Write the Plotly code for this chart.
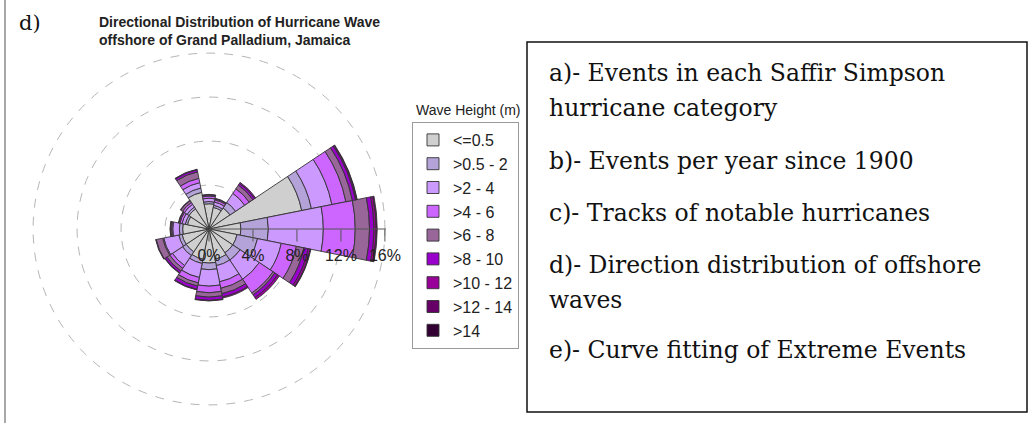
import plotly.graph_objects as go

# 16 compass sectors, N at the top, clockwise
directions = ["N", "NNE", "NE", "ENE", "E", "ESE", "SE", "SSE",
              "S", "SSW", "SW", "WSW", "W", "WNW", "NW", "NNW"]

height_classes = ["<=0.5", ">0.5 - 2", ">2 - 4", ">4 - 6", ">6 - 8",
                  ">8 - 10", ">10 - 12", ">12 - 14", ">14"]
class_colors = ["#CFCFCF", "#B3A3D9", "#CC99FF", "#CC66FF", "#996699",
                "#9900CC", "#990099", "#660066", "#330033"]

# frequency of occurrence (%) per direction, one list per wave height class
h_0_05 = [2.3, 2.0, 2.3, 8.6, 2.9, 2.6, 2.6, 2.8, 3.1, 2.8, 2.5, 2.5, 2.4, 2.0, 2.2, 3.4]
h_05_2 = [0.2, 0.2, 0.6, 0.9, 2.5, 1.9, 0.8, 0.6, 0.6, 0.4, 0.4, 0.3, 0.3, 0.2, 0.2, 0.4]
h_2_4 = [0.3, 0.3, 1.0, 1.9, 5.0, 2.2, 2.1, 1.5, 1.5, 1.3, 1.1, 1.4, 0.6, 0.3, 0.3, 0.5]
h_4_6 = [0.2, 0.2, 0.5, 1.3, 2.9, 1.4, 1.5, 0.6, 0.6, 0.5, 0.3, 0.1, 0.1, 0.2, 0.2, 0.4]
h_6_8 = [0.1, 0.1, 0.4, 0.6, 1.3, 0.7, 0.2, 0.5, 0.4, 0.3, 0.3, 0.6, 0.1, 0.1, 0.2, 0.6]
h_8_10 = [0.05, 0.05, 0.2, 0.3, 0.4, 0.4, 0.3, 0.3, 0.3, 0.3, 0.2, 0.05, 0.05, 0.05, 0.05, 0.2]
h_10_12 = [0, 0, 0.1, 0.1, 0.2, 0.2, 0.2, 0.1, 0.05, 0.05, 0.05, 0, 0, 0, 0, 0.05]
h_12_14 = [0, 0, 0, 0.05, 0.1, 0.05, 0, 0, 0, 0, 0, 0, 0, 0, 0, 0]
h_14 = [0, 0, 0, 0, 0, 0, 0, 0, 0, 0, 0, 0, 0, 0, 0, 0]
freqs = [h_0_05, h_05_2, h_2_4, h_4_6, h_6_8, h_8_10, h_10_12, h_12_14, h_14]

radial_ticks = [0, 4, 8, 12, 16]
radial_labels = ["0%", "4%", "8%", "12%", "16%"]

notes = ["a)- Events in each Saffir Simpson",
         "hurricane category",
         "b)- Events per year since 1900",
         "c)- Tracks of notable hurricanes",
         "d)- Direction distribution of offshore",
         "waves",
         "e)- Curve fitting of Extreme Events"]
note_y = [73, 108, 161, 213, 265, 300, 350]  # pixel rows from top

W, H = 1030, 430
sans = "Liberation Sans, Arial, sans-serif"
serif = "DejaVu Serif, serif"

fig = go.Figure()
for name, col, r in zip(height_classes, class_colors, freqs):
    fig.add_trace(go.Barpolar(
        r=r, theta=directions, name=name,
        marker=dict(color=col, line=dict(color="#333333", width=0.9)),
    ))

fig.update_layout(
    width=W, height=H,
    margin=dict(l=0, r=0, t=0, b=0),
    paper_bgcolor="white",
    plot_bgcolor="white",
    polar=dict(
        domain=dict(x=[32 / W, 386 / W], y=[1 - 406 / H, 1 - 52 / H]),
        bgcolor="white",
        barmode="stack",
        bargap=0,
        radialaxis=dict(
            range=[0, 16.1], tickmode="array", tickvals=radial_ticks, ticktext=radial_labels,
            angle=0, tickangle=0, side="clockwise",
            showline=True, linecolor="#555555", linewidth=1,
            ticks="outside", ticklen=12, tickcolor="#555555",
            showgrid=True, gridcolor="#B5B5B5", griddash="dash", gridwidth=1,
            tickfont=dict(family=sans, size=16, color="#222222"),
            layer="above traces",
        ),
        angularaxis=dict(
            rotation=90, direction="clockwise",
            showgrid=False, showline=False, showticklabels=False, ticks="",
        ),
    ),
    legend=dict(
        x=412 / W, y=1 - 122 / H, xanchor="left", yanchor="top",
        bordercolor="#9a9a9a", borderwidth=1, bgcolor="white",
        font=dict(family=sans, size=16, color="#222222"),
        itemclick=False,
    ),
    showlegend=True,
)

annotations = [
    dict(text="d)", x=17 / W, y=1 - 23 / H, xanchor="left", yanchor="middle",
         font=dict(family=serif, size=21, color="#111111")),
    dict(text="<b>Directional Distribution of Hurricane Wave<br>offshore of Grand Palladium, Jamaica</b>",
         x=97 / W, y=1 - 12 / H, xanchor="left", yanchor="top", align="left",
         font=dict(family=sans, size=14, color="#222222")),
    dict(text="Wave Height (m)", x=414 / W, y=1 - 110 / H, xanchor="left", yanchor="middle",
         font=dict(family=sans, size=14, color="#222222")),
]
for txt, yp in zip(notes, note_y):
    annotations.append(dict(text=txt, x=547 / W, y=1 - yp / H, xanchor="left", yanchor="middle",
                            font=dict(family=serif, size=23.5, color="#111111")))
for a in annotations:
    a.update(xref="paper", yref="paper", showarrow=False)
fig.update_layout(annotations=annotations)

fig.update_layout(shapes=[
    dict(type="line", xref="paper", yref="paper", x0=5 / W, x1=5 / W, y0=1 - 423 / H, y1=1,
         line=dict(color="#A8A8A8", width=2)),
    dict(type="rect", xref="paper", yref="paper", x0=527 / W, x1=1027 / W, y0=1 - 412 / H, y1=1 - 42 / H,
         line=dict(color="#111111", width=1.5)),
])

fig.write_html("out.html", config={"displayModeBar": False},
               post_script="document.body.style.margin='0';")
